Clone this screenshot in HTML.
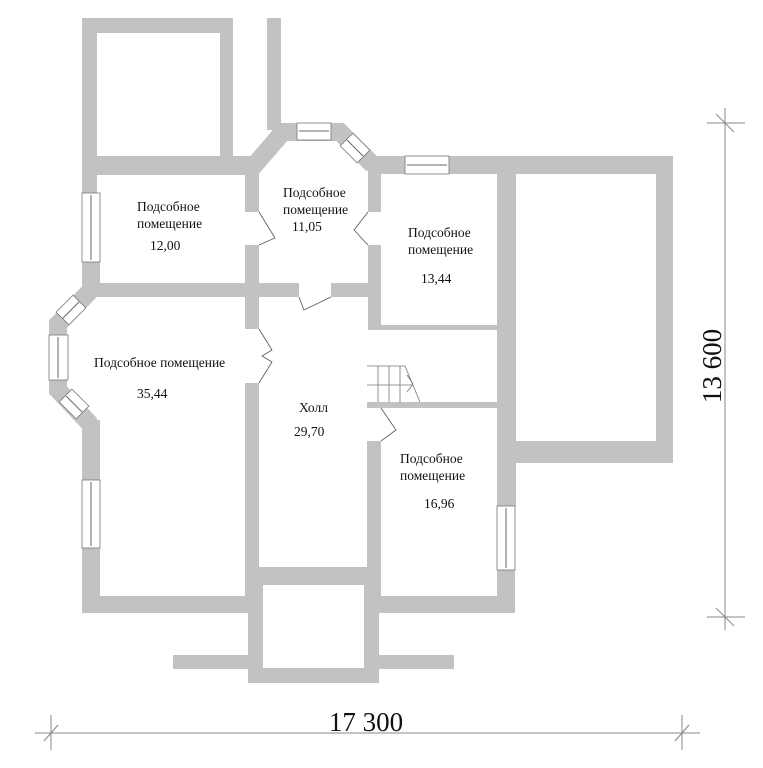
<!DOCTYPE html>
<html><head><meta charset="utf-8"><style>
html,body{margin:0;padding:0;background:#fff;width:763px;height:768px;overflow:hidden}
svg{display:block}
text{font-family:"Liberation Serif",serif;fill:#111}
</style></head><body>
<svg width="763" height="768" viewBox="0 0 763 768" xmlns="http://www.w3.org/2000/svg">
<g fill="#c2c2c2">
<rect x="82" y="18" width="151" height="15"/>
<rect x="82" y="18" width="15" height="175"/>
<rect x="220" y="18" width="13" height="145"/>
<rect x="267" y="18" width="14" height="112"/>
<rect x="82" y="156" width="170" height="19"/>
<rect x="368" y="156" width="305" height="18"/>
<rect x="656" y="156" width="17" height="307"/>
<rect x="497" y="441" width="176" height="22"/>
<rect x="497" y="156" width="19" height="350"/>
<rect x="497" y="570" width="18" height="43"/>
<rect x="82" y="262" width="18" height="35"/>
<rect x="82" y="283" width="217" height="14"/>
<rect x="331" y="283" width="50" height="14"/>
<rect x="245" y="165" width="14" height="47"/>
<rect x="245" y="245" width="14" height="84"/>
<rect x="245" y="383" width="14" height="230"/>
<rect x="368" y="165" width="13" height="47"/>
<rect x="368" y="245" width="13" height="85"/>
<rect x="368" y="325" width="129" height="5"/>
<rect x="367" y="402" width="130" height="6"/>
<rect x="367" y="441" width="14" height="172"/>
<rect x="82" y="420" width="18" height="193"/>
<rect x="82" y="596" width="180" height="17"/>
<rect x="367" y="596" width="148" height="17"/>
<rect x="245" y="567" width="136" height="18"/>
<rect x="248" y="567" width="15" height="116"/>
<rect x="364" y="567" width="15" height="116"/>
<rect x="248" y="668" width="131" height="15"/>
<rect x="173" y="655" width="76" height="14"/>
<rect x="378" y="655" width="76" height="14"/>
<rect x="232" y="156" width="20" height="19"/><rect x="82" y="285" width="14" height="12"/>
</g>
<g fill="none" stroke="#c2c2c2" stroke-width="18" stroke-linejoin="miter">
<polyline points="252,168 283,132 340,132 373,165"/>
<polyline points="93,288 58,324 58,390 91,425"/>
</g>
<g fill="#fff" stroke="#777" stroke-width="0.8">
<rect x="82" y="193" width="18" height="69"/>
<rect x="297" y="123" width="34" height="17"/>
<rect x="405" y="156" width="44" height="18"/>
<rect x="49" y="335" width="19" height="45"/>
<rect x="82" y="480" width="18" height="68"/>
<rect x="497" y="506" width="18" height="64"/>
<rect x="-12" y="-9" width="24" height="18" transform="translate(355,148) rotate(45)"/>
<rect x="-12" y="-9" width="24" height="18" transform="translate(71,310) rotate(-45)"/>
<rect x="-12" y="-9" width="24" height="18" transform="translate(74,404) rotate(45)"/>
</g>
<g stroke="#666" stroke-width="1">
<line x1="91" y1="195" x2="91" y2="260"/>
<line x1="299" y1="131" x2="329" y2="131"/>
<line x1="407" y1="165" x2="447" y2="165"/>
<line x1="58" y1="337" x2="58" y2="378"/>
<line x1="91" y1="482" x2="91" y2="546"/>
<line x1="506" y1="508" x2="506" y2="568"/>
<line x1="347" y1="140" x2="363" y2="156"/>
<line x1="63" y1="318" x2="79" y2="302"/>
<line x1="66" y1="396" x2="82" y2="412"/>
</g>
<g fill="none" stroke="#555" stroke-width="0.8">
<polyline points="259,212 275,238 259,245"/>
<polyline points="368,212 354,230 368,245"/>
<polyline points="299,297 304,310 331,297"/>
<polyline points="259,329 272,350 262,356 272,362 259,383"/>
<polyline points="381,408 396,430 381,441"/>
</g>
<g fill="none" stroke="#777" stroke-width="0.8">
<polyline points="367,366 405,366 420,402"/>
<line x1="367" y1="385" x2="412" y2="385"/>
<line x1="378" y1="366" x2="378" y2="402"/>
<line x1="389" y1="366" x2="389" y2="402"/>
<line x1="400" y1="366" x2="400" y2="402"/>
<polyline points="407,375 413,384 407,392"/>
</g>
<g font-size="13.5">
<text x="137" y="211">Подсобное</text>
<text x="137" y="228">помещение</text>
<text x="150" y="250">12,00</text>
<text x="283" y="197">Подсобное</text>
<text x="283" y="214">помещение</text>
<text x="292" y="231">11,05</text>
<text x="408" y="237">Подсобное</text>
<text x="408" y="254">помещение</text>
<text x="421" y="283">13,44</text>
<text x="94" y="367">Подсобное помещение</text>
<text x="137" y="398">35,44</text>
<text x="299" y="412">Холл</text>
<text x="294" y="436">29,70</text>
<text x="400" y="463">Подсобное</text>
<text x="400" y="480">помещение</text>
<text x="424" y="508">16,96</text>
</g>
<g stroke="#888" stroke-width="1">
<line x1="35" y1="733" x2="700" y2="733"/>
<line x1="51" y1="715" x2="51" y2="750"/>
<line x1="682" y1="715" x2="682" y2="750"/>
<line x1="44" y1="741" x2="58" y2="725"/>
<line x1="675" y1="741" x2="689" y2="725"/>
<line x1="725" y1="108" x2="725" y2="630"/>
<line x1="707" y1="123" x2="745" y2="123"/>
<line x1="707" y1="617" x2="745" y2="617"/>
<line x1="716" y1="114" x2="734" y2="132"/>
<line x1="716" y1="608" x2="734" y2="626"/>
</g>
<text x="366" y="731" font-size="27" text-anchor="middle">17 300</text>
<text x="0" y="0" font-size="27" text-anchor="middle" transform="translate(721,366) rotate(-90)">13 600</text>
</svg>
</body></html>
